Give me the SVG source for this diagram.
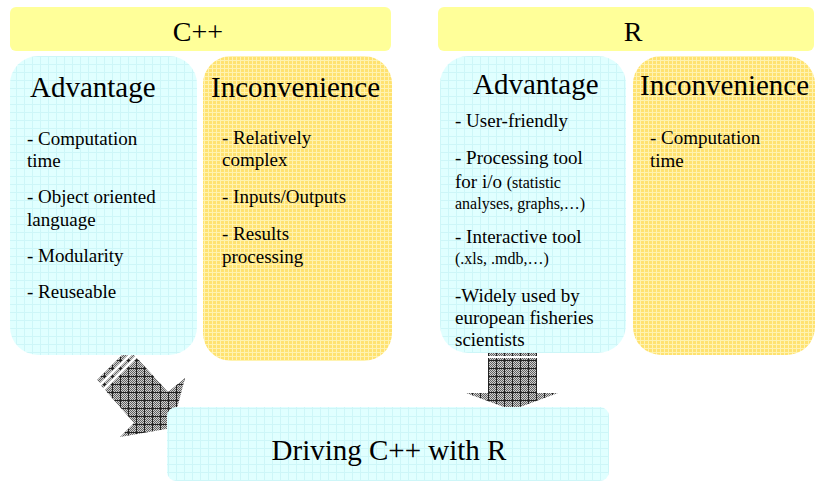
<svg xmlns="http://www.w3.org/2000/svg" width="815" height="481" viewBox="0 0 815 481">
<style>
text{font-family:"Liberation Serif",serif;fill:#000}
.h{font-size:28px;text-anchor:middle}
.t{font-size:29px}
.b{font-size:19px}
.s{font-size:16px}
.hdr{fill:#ffff99}
.adv{fill:url(#cyan)}
.inc{fill:url(#yel)}
.arr{fill:url(#gray)}
</style>
<defs>
<pattern id="cyan" width="8" height="8" patternUnits="userSpaceOnUse">
<rect width="8" height="8" fill="#e0ffff"/>
<rect width="8" height="1" fill="#cdf6f8"/>
<rect width="1" height="8" fill="#cdf6f8"/>
</pattern>
<pattern id="yel" width="4" height="4" patternUnits="userSpaceOnUse">
<rect width="4" height="4" fill="#ffe270"/>
<rect width="4" height="1" fill="#fff3b0"/>
<rect width="1" height="4" fill="#fff3b0"/>
</pattern>
<pattern id="dith" width="2" height="2" patternUnits="userSpaceOnUse">
<rect width="2" height="2" fill="#d0d0d0"/>
<rect width="1" height="1" fill="#606060"/>
<rect x="1" y="1" width="1" height="1" fill="#606060"/>
</pattern>
<pattern id="gray" width="8" height="8" patternUnits="userSpaceOnUse">
<rect width="8" height="8" fill="url(#dith)"/>
<rect width="8" height="1" fill="#222"/>
<rect width="1" height="8" fill="#222"/>
</pattern>
</defs>

<g id="cpp-header">
<rect class="hdr" x="10" y="7" width="381" height="44" rx="6"/>
<text class="h" x="198" y="41">C++</text>
</g>
<g id="r-header">
<rect class="hdr" x="438" y="7" width="376" height="44" rx="6"/>
<text class="h" x="633" y="41">R</text>
</g>

<g id="connectors">
<polygon class="arr" points="97,380 130,347 133,350 100,383"/>
<polygon class="arr" points="101,386 133,354 135,356 103,388"/>
<polygon class="arr" points="105,390 137,358 168,392 185,378 172,428 120,437 134,423"/>
<rect class="arr" x="488" y="353" width="49" height="3"/>
<polygon class="arr" points="488,358 537,358 537,393 558,393 512,410 466,393 488,393"/>
</g>

<g id="cpp-advantage">
<rect class="adv" x="10" y="56" width="187" height="299" rx="28"/>
<text class="t" x="30" y="97">Advantage</text>
<text class="b" x="27" y="145">- Computation</text>
<text class="b" x="27" y="167">time</text>
<text class="b" x="27" y="203">- Object oriented</text>
<text class="b" x="27" y="226">language</text>
<text class="b" x="27" y="262">- Modularity</text>
<text class="b" x="27" y="298">- Reuseable</text>
</g>

<g id="cpp-inconvenience">
<rect class="inc" x="203" y="56" width="189" height="305" rx="28"/>
<text class="t" x="211" y="97">Inconvenience</text>
<text class="b" x="222" y="144">- Relatively</text>
<text class="b" x="222" y="166">complex</text>
<text class="b" x="222" y="203">- Inputs/Outputs</text>
<text class="b" x="222" y="240">- Results</text>
<text class="b" x="222" y="263">processing</text>
</g>

<g id="r-advantage">
<rect class="adv" x="440" y="56" width="186" height="297" rx="28"/>
<text class="t" x="473" y="94">Advantage</text>
<text class="b" x="455" y="127">- User-friendly</text>
<text class="b" x="455" y="164">- Processing tool</text>
<text class="b" x="455" y="188">for i/o <tspan class="s">(statistic</tspan></text>
<text class="s" x="455" y="209">analyses, graphs,…)</text>
<text class="b" x="455" y="243">- Interactive tool</text>
<text class="s" x="455" y="264">(.xls, .mdb,…)</text>
<text class="b" x="455" y="302">-Widely used by</text>
<text class="b" x="455" y="324">european fisheries</text>
<text class="b" x="455" y="346">scientists</text>
</g>

<g id="r-inconvenience">
<rect class="inc" x="633" y="56" width="182" height="299" rx="28"/>
<text class="t" x="640" y="95">Inconvenience</text>
<text class="b" x="650" y="144">- Computation</text>
<text class="b" x="650" y="167">time</text>
</g>

<g id="driving">
<rect class="adv" x="167" y="407" width="442" height="74" rx="9"/>
<text class="t" x="389" y="460" text-anchor="middle">Driving C++ with R</text>
</g>
</svg>
